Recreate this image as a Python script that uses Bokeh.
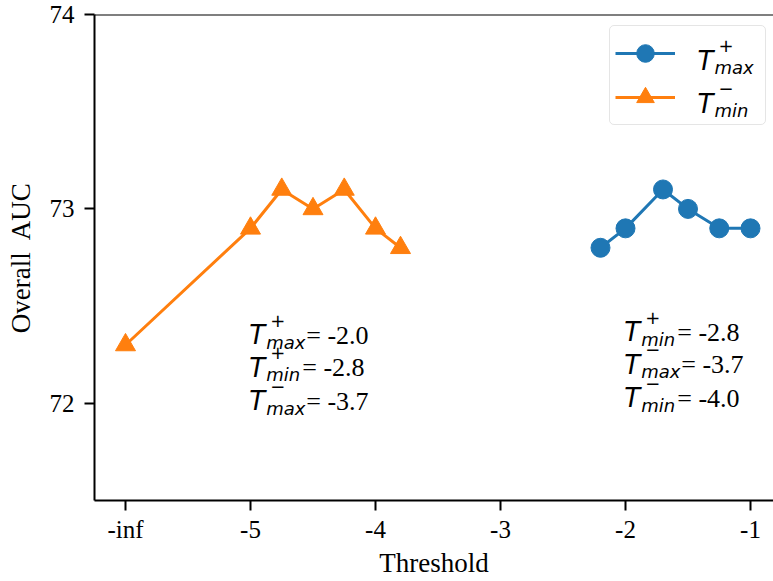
from bokeh.plotting import figure
from bokeh.models import Range1d, FixedTicker, Label, Legend, LegendItem, Span
from bokeh.embed import file_html
from bokeh.resources import INLINE

# ---- data ----
x_ticks = [-6, -5, -4, -3, -2, -1]
x_tick_labels = ["-inf", "-5", "-4", "-3", "-2", "-1"]
y_ticks = [72, 73, 74]

tmax_threshold = [-2.2, -2.0, -1.7, -1.5, -1.25, -1.0]
tmax_auc = [72.8, 72.9, 73.1, 73.0, 72.9, 72.9]

tmin_threshold = [-6.0, -5.0, -4.75, -4.5, -4.25, -4.0, -3.8]
tmin_auc = [72.3, 72.9, 73.1, 73.0, 73.1, 72.9, 72.8]

# annotation rows: (superscript, subscript, value)
left_rows = [("+", "max", "-2.0"), ("+", "min", "-2.8"), ("\u2212", "max", "-3.7")]
right_rows = [("+", "min", "-2.8"), ("\u2212", "max", "-3.7"), ("\u2212", "min", "-4.0")]
legend_rows = [("+", "max"), ("\u2212", "min")]

# ---- placement (text anchors, in data units) ----
left_block_x = -5.01
left_rows_y = [72.35, 72.183, 72.01]
right_block_x = -2.01
right_rows_y = [72.366, 72.198, 72.025]
legend_text_x = -1.424
legend_text_y = [73.763, 73.542]

BLUE = "#1f77b4"
ORANGE = "#ff7f0e"
SERIF = "Liberation Serif"

p = figure(width=773, height=581,
           x_range=Range1d(-6.248, -0.816), y_range=Range1d(71.5, 74),
           output_backend="svg", toolbar_location=None,
           min_border_left=94, min_border_top=14, min_border_right=0,
           min_border_bottom=81,
           x_axis_label="Threshold", y_axis_label="Overall\u00a0 AUC")

p.xgrid.visible = False
p.ygrid.visible = False
p.outline_line_color = None
p.background_fill_color = "white"
p.border_fill_color = "white"

p.xaxis.ticker = FixedTicker(ticks=x_ticks)
p.xaxis.major_label_overrides = {t: l for t, l in zip(x_ticks, x_tick_labels)}
p.yaxis.ticker = FixedTicker(ticks=y_ticks)

for ax in (p.xaxis, p.yaxis):
    ax.axis_line_width = 2
    ax.axis_line_color = "black"
    ax.major_tick_line_width = 2
    ax.major_tick_line_color = "black"
    ax.major_tick_out = 10
    ax.major_tick_in = 0
    ax.minor_tick_line_color = None
    ax.major_label_text_font = SERIF
    ax.major_label_text_font_size = "25px"
    ax.major_label_text_color = "black"
    ax.axis_label_text_font = SERIF
    ax.axis_label_text_font_size = "27px"
    ax.axis_label_text_font_style = "normal"
    ax.axis_label_text_color = "black"

p.yaxis.major_label_standoff = 10
p.yaxis.axis_label_standoff = 11
p.xaxis.major_label_standoff = 5
p.xaxis.axis_label_standoff = 2

# top spine
p.add_layout(Span(location=74, dimension="width", line_color="black", line_width=2))

# ---- series ----
lb = p.line(tmax_threshold, tmax_auc, line_width=3, color=BLUE)
sb = p.scatter(tmax_threshold, tmax_auc, marker="circle", size=19, color=BLUE)
lo = p.line(tmin_threshold, tmin_auc, line_width=3, color=ORANGE)
so = p.scatter(tmin_threshold, tmin_auc, marker="triangle", size=20, color=ORANGE)

legend = Legend(items=[LegendItem(label=" ", renderers=[lb, sb]),
                       LegendItem(label=" ", renderers=[lo, so])],
                location=(515, 375), padding=5, spacing=0,
                glyph_width=60, glyph_height=44, label_width=63, label_height=44,
                label_standoff=22, label_text_font_size="8px",
                border_line_color="#cccccc", border_line_width=1.5,
                background_fill_color=None)
if "border_radius" in Legend.properties():
    legend.border_radius = 5
p.add_layout(legend)


def math_T(x, y, sup, sub, rest=None, rest_dx=0):
    common = dict(x=x, y=y, text_baseline="alphabetic", text_align="left",
                  text_color="black", level="overlay")
    p.add_layout(Label(text="T", text_font="DejaVu Sans", text_font_style="italic",
                       text_font_size="26px", **common))
    p.add_layout(Label(text=sup, x_offset=21, y_offset=15, text_font="DejaVu Sans",
                       text_font_size="18px", **common))
    p.add_layout(Label(text=sub, x_offset=17, y_offset=-7, text_font="DejaVu Sans",
                       text_font_style="italic", text_font_size="18px", **common))
    if rest is not None:
        p.add_layout(Label(text="= " + rest, x_offset=rest_dx, text_font=SERIF,
                           text_font_size="26px", **common))


for (sup, sub, val), yy in zip(left_rows, left_rows_y):
    math_T(left_block_x, yy, sup, sub, val, 57 if sub == "max" else 53)
for (sup, sub, val), yy in zip(right_rows, right_rows_y):
    math_T(right_block_x, yy, sup, sub, val, 57 if sub == "max" else 53)
for (sup, sub), yy in zip(legend_rows, legend_text_y):
    math_T(legend_text_x, yy, sup, sub)

open("out.html", "w").write(file_html(p, INLINE))
